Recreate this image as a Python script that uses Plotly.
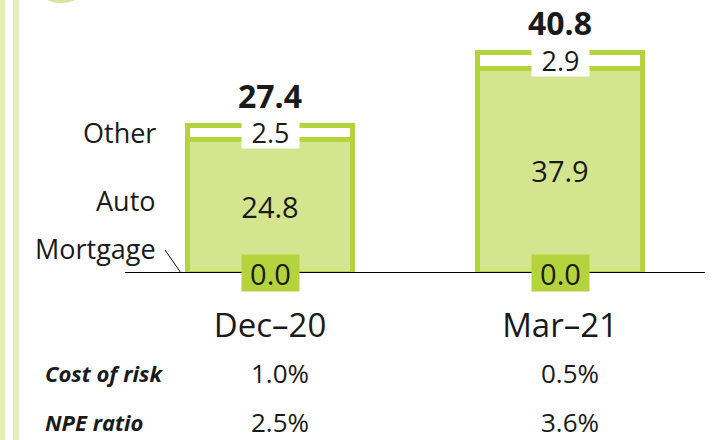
import plotly.graph_objects as go

categories = ["Dec\u201320", "Mar\u201321"]
mortgage = [0.0, 0.0]
auto = [24.8, 37.9]
other = [2.5, 2.9]
totals = [27.4, 40.8]
segment_names = ["Other", "Auto", "Mortgage"]
table_rows = ["Cost of risk", "NPE ratio"]
cost_of_risk = ["1.0%", "0.5%"]
npe_ratio = ["2.5%", "3.6%"]

FONT = "Open Sans"
DARK = "#1a1a1a"
GREEN = "rgb(181,211,61)"
FILL = "rgb(212,228,143)"
PALE = "rgb(229,238,185)"

fig = go.Figure()
fig.add_trace(go.Bar(x=categories, y=mortgage, name="Mortgage", width=0.57,
                     marker=dict(color=FILL, line=dict(width=0)), hoverinfo="skip"))
fig.add_trace(go.Bar(x=categories, y=auto, name="Auto", width=0.57,
                     marker=dict(color=FILL, line=dict(color=GREEN, width=5)),
                     texttemplate="%{y:.1f}", textposition="inside",
                     insidetextanchor="middle",
                     textfont=dict(family=FONT, size=29, color=DARK)))
fig.add_trace(go.Bar(x=categories, y=other, name="Other", width=0.57,
                     marker=dict(color="white", line=dict(color=GREEN, width=5)),
                     textposition="none"))

ROW_Y = [-0.4115, -0.613]
ann = []
for i, c in enumerate(categories):
    # Other value (white box)
    ann.append(dict(x=c, y=auto[i] + mortgage[i] + other[i] / 2, xref="x", yref="y",
                    text=f"{other[i]:.1f}", showarrow=False, bgcolor="white",
                    width=55, height=29,
                    font=dict(family=FONT, size=27, color=DARK)))
    # Mortgage value (green box)
    ann.append(dict(x=c, y=mortgage[i], xref="x", yref="y",
                    text=f"{mortgage[i]:.1f}", showarrow=False, bgcolor=GREEN,
                    width=55, height=34,
                    font=dict(family=FONT, size=29, color=DARK)))
    # total
    ann.append(dict(x=c, y=auto[i] + mortgage[i] + other[i], xref="x", yref="y",
                    text=f"<b>{totals[i]:.1f}</b>", showarrow=False,
                    yanchor="bottom", yshift=7,
                    font=dict(family=FONT, size=32, color=DARK)))
    # table values
    for r, vals in enumerate([cost_of_risk, npe_ratio]):
        ann.append(dict(x=c, y=ROW_Y[r], xref="x", yref="paper",
                        text=vals[i], showarrow=False, xshift=10,
                        xanchor="center", yanchor="middle",
                        font=dict(family=FONT, size=26, color=DARK)))

# segment labels (left of first bar)
label_y = [auto[0] + mortgage[0] + other[0] / 2, mortgage[0] + auto[0] / 2, mortgage[0]]
label_shift = [0, 6, 25]
for name, yv, ys in zip(segment_names, label_y, label_shift):
    ann.append(dict(x=0.0569, y=yv, xref="paper", yref="y", text=name,
                    showarrow=False, xanchor="right", yanchor="middle", yshift=ys,
                    font=dict(family=FONT, size=27, color=DARK)))

for r, name in enumerate(table_rows):
    ann.append(dict(x=-0.1414, y=ROW_Y[r], xref="paper", yref="paper",
                    text=f"<b><i>{name}</i></b>", showarrow=False,
                    xanchor="left", yanchor="middle",
                    font=dict(family=FONT, size=22, color=DARK)))

shapes = [
    # decorative left bars
    dict(type="rect", xref="paper", yref="paper", x0=-0.2155, x1=-0.2069, y0=-0.7, y1=1.2,
         fillcolor=PALE, line=dict(width=0), layer="below"),
    dict(type="rect", xref="paper", yref="paper", x0=-0.1931, x1=-0.1828, y0=-0.7, y1=1.2,
         fillcolor=PALE, line=dict(width=0), layer="below"),
    dict(type="circle", xref="paper", yref="paper", x0=-0.169, x1=-0.0517, y0=1.111, y1=1.391,
         fillcolor="rgb(215,230,150)", line=dict(width=0), layer="below"),
    # baseline axis
    dict(type="line", xref="x", yref="y", x0=-0.5, x1=1.5, y0=0, y1=0,
         line=dict(color="black", width=2), layer="above"),
    dict(type="line", xref="x", yref="y", ysizemode="pixel", yanchor=0,
         x0=-0.5, x1=-0.5, y0=0, y1=-12, line=dict(color="black", width=2)),
    dict(type="line", xref="x", yref="y", ysizemode="pixel", yanchor=0,
         x0=1.5, x1=1.5, y0=0, y1=-12, line=dict(color="black", width=2)),
    # mortgage leader line
    dict(type="line", xref="paper", yref="y", x0=0.069, x1=0.0966, y0=4.26, y1=0,
         line=dict(color="black", width=1)),
]

fig.update_layout(
    width=718, height=440,
    margin=dict(l=125, r=13, t=30, b=167),
    barmode="stack", showlegend=False,
    plot_bgcolor="white", paper_bgcolor="white",
    annotations=ann, shapes=shapes,
    xaxis=dict(type="category", range=[-0.5, 1.5], showgrid=False, zeroline=False,
               showline=False, ticks="outside", ticklen=23, tickcolor="rgba(0,0,0,0)",
               tickfont=dict(family=FONT, size=33, color=DARK)),
    yaxis=dict(range=[0, 45], visible=False, showgrid=False, zeroline=False),
)

fig.write_html("out.html", config={"displayModeBar": False},
               post_script="document.body.style.margin='0';")
